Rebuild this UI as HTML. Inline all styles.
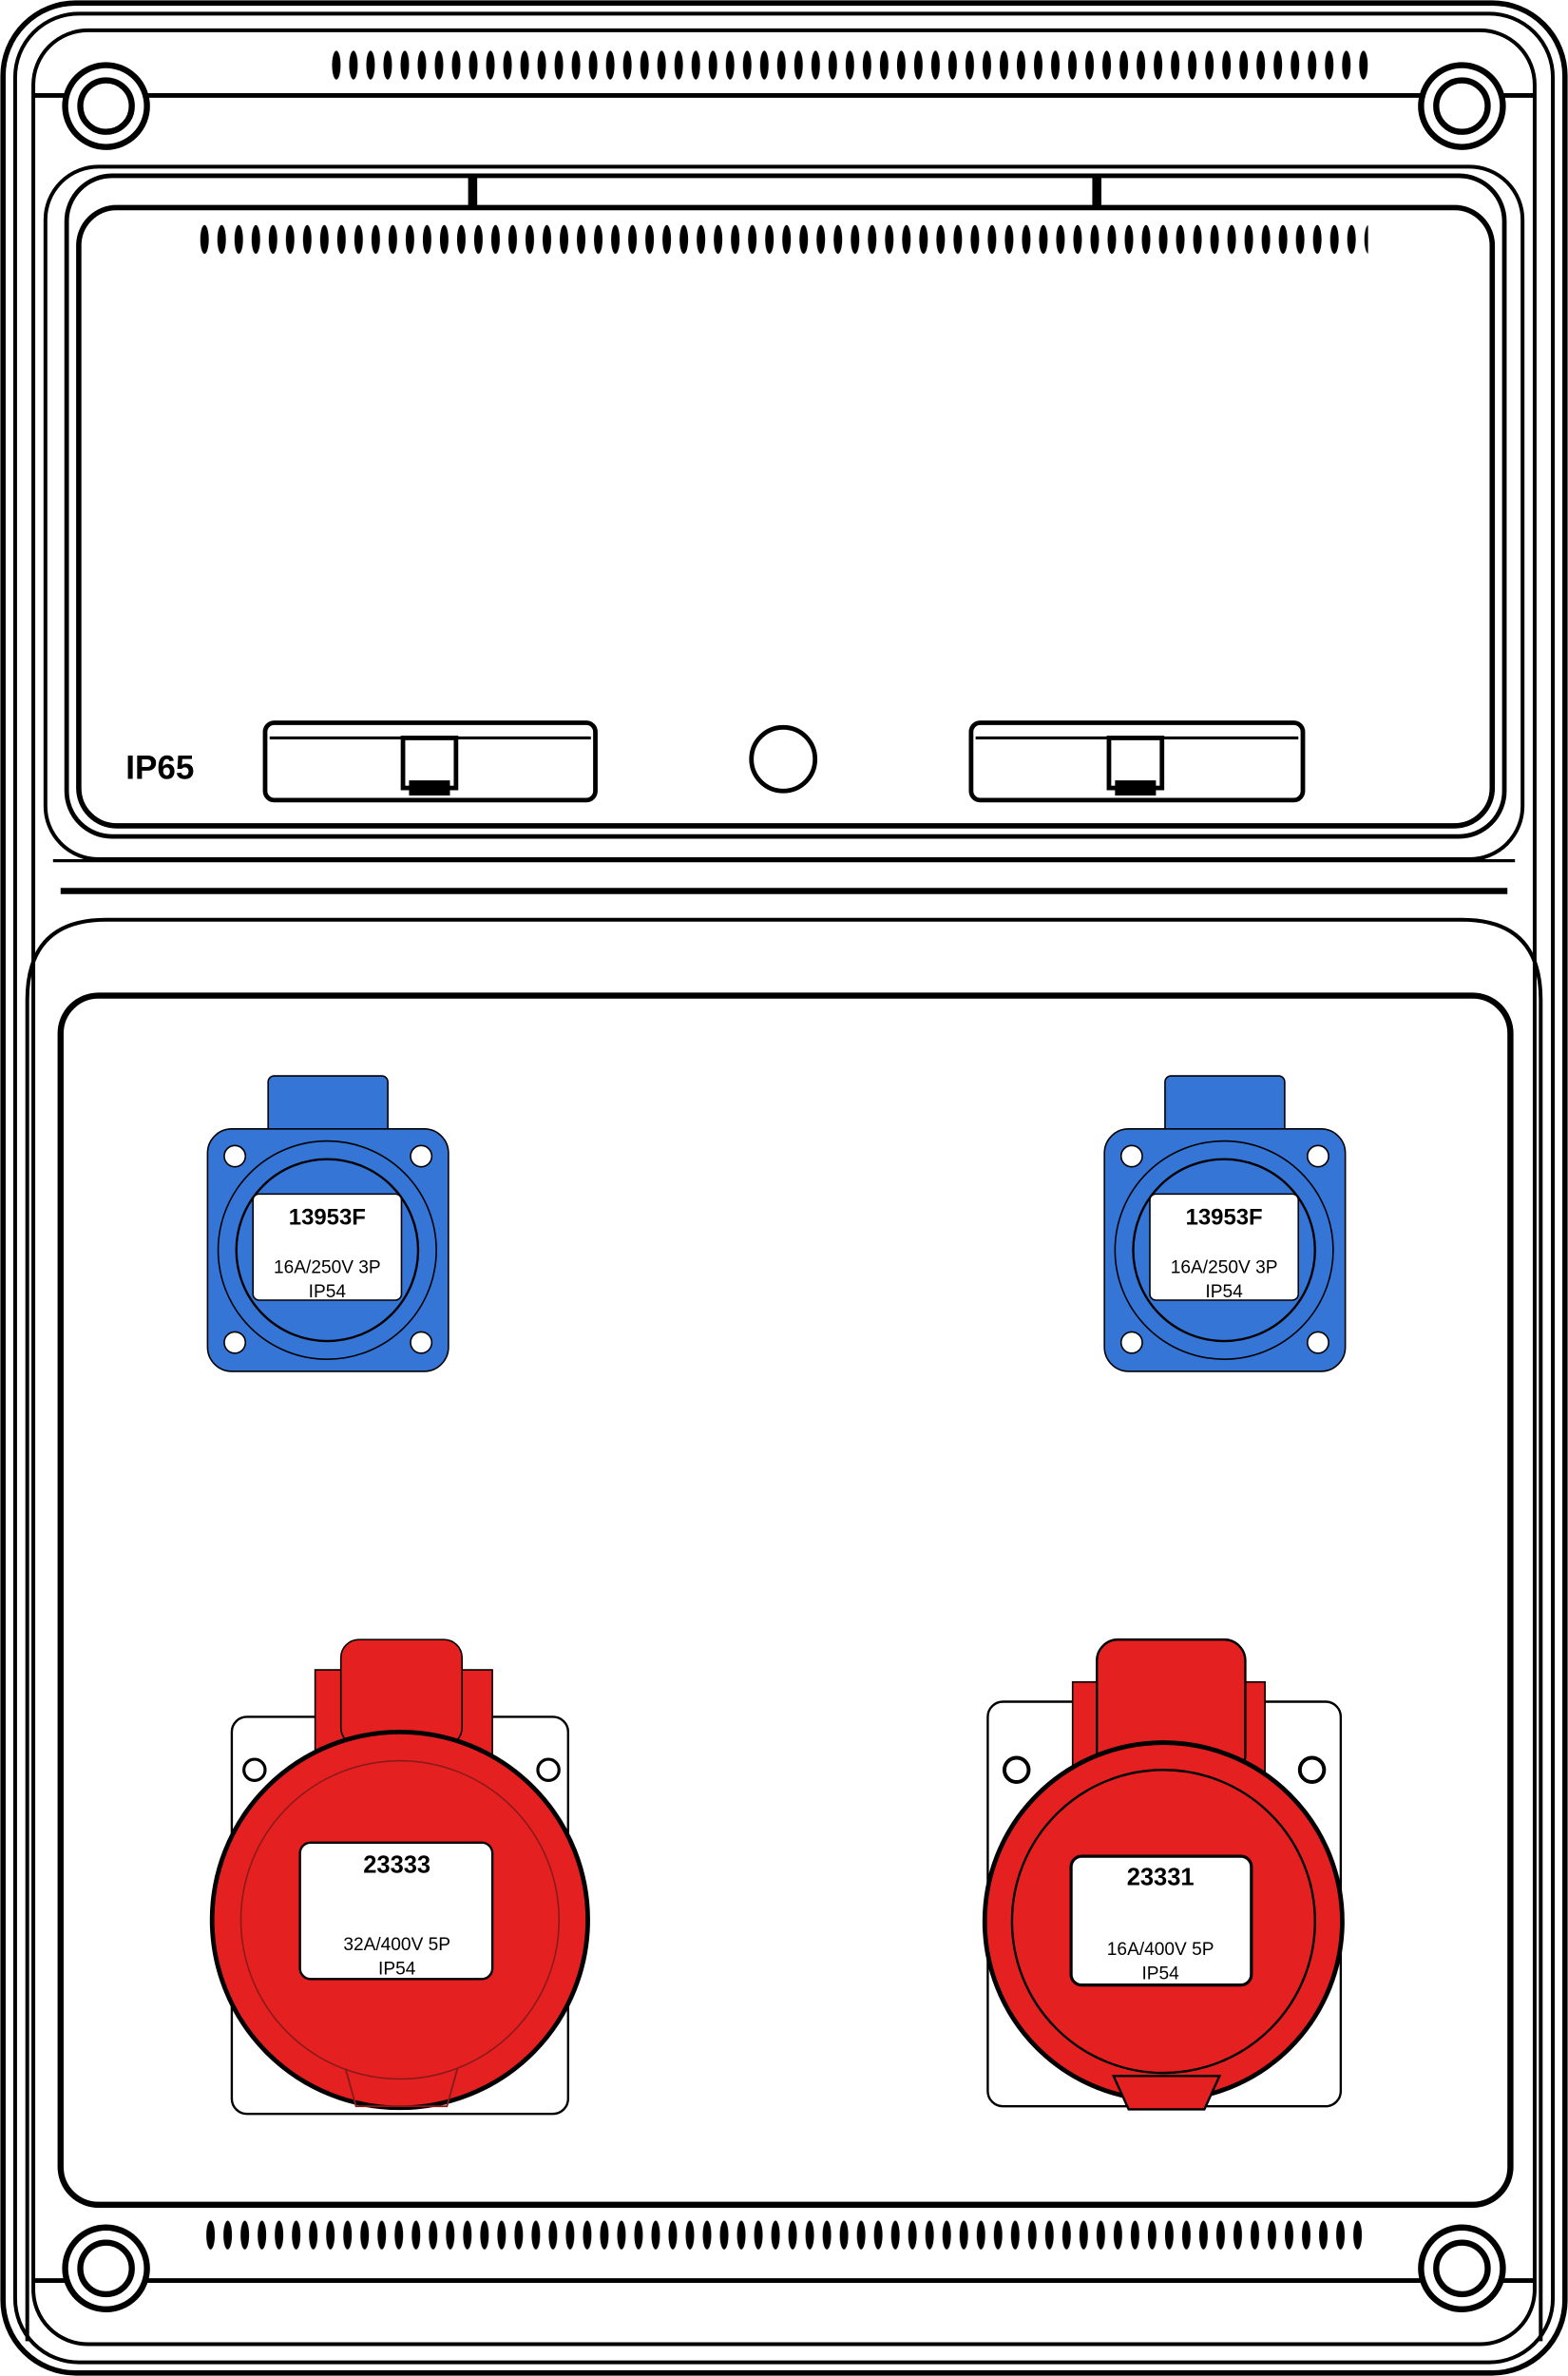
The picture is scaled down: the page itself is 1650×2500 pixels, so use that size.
<!DOCTYPE html>
<html><head><meta charset="utf-8"><style>
html,body{margin:0;padding:0;background:#fff}
svg{display:block}
text{font-family:"Liberation Sans",sans-serif;fill:#000}
</style></head><body>
<svg width="1650" height="2500" viewBox="0 0 1035 1568" preserveAspectRatio="none" xmlns="http://www.w3.org/2000/svg">
<defs>
<pattern id="v1" x="218" y="33" width="11.3" height="20" patternUnits="userSpaceOnUse">
<ellipse cx="4" cy="10" rx="2.8" ry="9.5" fill="#000"/>
</pattern>
<pattern id="v2" x="131" y="148" width="11.3" height="20" patternUnits="userSpaceOnUse">
<ellipse cx="4" cy="10" rx="2.8" ry="9.5" fill="#000"/>
</pattern>
<pattern id="v3" x="135" y="1465" width="11.3" height="20" patternUnits="userSpaceOnUse">
<ellipse cx="4" cy="10" rx="2.8" ry="9.5" fill="#000"/>
</pattern>
</defs>
<rect width="1035" height="1568" fill="#fff"/>
<g fill="none" stroke="#000">
<rect x="2" y="2" width="1031" height="1564" rx="48" stroke-width="3.5"/>
<rect x="10" y="9" width="1015" height="1550" rx="42" stroke-width="2.5"/>
<rect x="22" y="20" width="991" height="1527" rx="36" stroke-width="2.5"/>
<line x1="22" y1="63" x2="1013" y2="63" stroke-width="3"/>
<line x1="22" y1="1505" x2="1013" y2="1505" stroke-width="3"/>
<rect x="44" y="116" width="949" height="436" rx="30" stroke-width="3"/>
<rect x="30" y="110" width="975" height="457" rx="35" stroke-width="2.5"/>
<rect x="52" y="137" width="933" height="408" rx="25" stroke-width="3.5"/>
<line x1="40" y1="588" x2="995" y2="588" stroke-width="4"/>
<line x1="35" y1="568" x2="1000" y2="568" stroke-width="2"/>
<path d="M18 1545 L18 660 Q18 607 70 607 L965 607 Q1017 607 1017 660 L1017 1545" stroke-width="2.5"/>
<rect x="40" y="657" width="957" height="798" rx="25" stroke-width="4"/>
<rect x="175" y="477" width="218" height="51" rx="6" stroke-width="3"/>
<line x1="178" y1="487" x2="390" y2="487" stroke-width="2"/>
<rect x="641" y="477" width="219" height="51" rx="6" stroke-width="3"/>
<line x1="644" y1="487" x2="857" y2="487" stroke-width="2"/>
<circle cx="517" cy="501" r="21" stroke-width="3"/>
</g>
<g fill="#fff" stroke="#000" stroke-width="4">
<circle cx="70" cy="70" r="27"/><circle cx="70" cy="70" r="17"/>
<circle cx="965" cy="70" r="27"/><circle cx="965" cy="70" r="17"/>
<circle cx="70" cy="1497" r="27"/><circle cx="70" cy="1497" r="17"/>
<circle cx="965" cy="1497" r="27"/><circle cx="965" cy="1497" r="17"/>
</g>
<rect x="309" y="116" width="6" height="20" fill="#000"/>
<rect x="721" y="116" width="6" height="20" fill="#000"/>
<rect x="266" y="487" width="35" height="33" fill="#fff" stroke="#000" stroke-width="3"/>
<rect x="270" y="515" width="27" height="10" fill="#000"/>
<rect x="732" y="487" width="35" height="33" fill="#fff" stroke="#000" stroke-width="3"/>
<rect x="736" y="515" width="27" height="10" fill="#000"/>
<rect x="218" y="33" width="690" height="20" fill="url(#v1)"/>
<rect x="131" y="148" width="772" height="20" fill="url(#v2)"/>
<rect x="135" y="1465" width="765" height="20" fill="url(#v3)"/>
<text x="83" y="514" font-size="22" font-weight="bold">IP65</text>

<g>
<rect x="177" y="710" width="79" height="70" rx="4" fill="#3575d6" stroke="#000" stroke-width="1"/>
<rect x="137" y="745" width="159" height="160" rx="16" fill="#3575d6" stroke="#000" stroke-width="1"/>
<circle cx="216" cy="825" r="72" fill="#3575d6" stroke="#000" stroke-width="1"/>
<circle cx="216" cy="825" r="60" fill="#3575d6" stroke="#000" stroke-width="1.5"/>
<circle cx="155" cy="763" r="7" fill="#fff" stroke="#000"/>
<circle cx="278" cy="763" r="7" fill="#fff" stroke="#000"/>
<circle cx="155" cy="886" r="7" fill="#fff" stroke="#000"/>
<circle cx="278" cy="886" r="7" fill="#fff" stroke="#000"/>
<rect x="167" y="788" width="98" height="70" rx="4" fill="#fff" stroke="#000"/>
<text x="216" y="808" font-size="15" font-weight="bold" text-anchor="middle">13953F</text>
<text x="216" y="840" font-size="12" text-anchor="middle">16A/250V 3P</text>
<text x="216" y="856" font-size="12" text-anchor="middle">IP54</text>
</g>
<g transform="translate(592,0)">
<rect x="177" y="710" width="79" height="70" rx="4" fill="#3575d6" stroke="#000" stroke-width="1"/>
<rect x="137" y="745" width="159" height="160" rx="16" fill="#3575d6" stroke="#000" stroke-width="1"/>
<circle cx="216" cy="825" r="72" fill="#3575d6" stroke="#000" stroke-width="1"/>
<circle cx="216" cy="825" r="60" fill="#3575d6" stroke="#000" stroke-width="1.5"/>
<circle cx="155" cy="763" r="7" fill="#fff" stroke="#000"/>
<circle cx="278" cy="763" r="7" fill="#fff" stroke="#000"/>
<circle cx="155" cy="886" r="7" fill="#fff" stroke="#000"/>
<circle cx="278" cy="886" r="7" fill="#fff" stroke="#000"/>
<rect x="167" y="788" width="98" height="70" rx="4" fill="#fff" stroke="#000"/>
<text x="216" y="808" font-size="15" font-weight="bold" text-anchor="middle">13953F</text>
<text x="216" y="840" font-size="12" text-anchor="middle">16A/250V 3P</text>
<text x="216" y="856" font-size="12" text-anchor="middle">IP54</text>
</g>

<rect x="153" y="1133" width="222" height="262" rx="10" fill="#fff" stroke="#000" stroke-width="1.5"/>
<rect x="208" y="1102" width="117" height="60" fill="#e52020" stroke="#000" stroke-width="1"/>
<rect x="225" y="1082" width="80" height="70" rx="12" fill="#e52020" stroke="#000" stroke-width="1"/>
<circle cx="168" cy="1168" r="7" fill="none" stroke="#000" stroke-width="2"/>
<circle cx="362" cy="1168" r="7" fill="none" stroke="#000" stroke-width="2"/>
<circle cx="264" cy="1267" r="124" fill="#e52020" stroke="#000" stroke-width="3"/>
<circle cx="264" cy="1267" r="105" fill="none" stroke="#8a1a1a" stroke-width="1"/>
<path d="M228 1365 L235 1390 L295 1390 L302 1365" fill="none" stroke="#8a1a1a" stroke-width="1.2"/>
<rect x="198" y="1216" width="127" height="90" rx="7" fill="#fff" stroke="#000" stroke-width="1.5"/>
<text x="262" y="1236" font-size="16" font-weight="bold" text-anchor="middle">23333</text>
<text x="262" y="1287" font-size="12" text-anchor="middle">32A/400V 5P</text>
<text x="262" y="1303" font-size="12" text-anchor="middle">IP54</text>

<rect x="652" y="1123" width="233" height="267" rx="10" fill="#fff" stroke="#000" stroke-width="1.5"/>
<rect x="708" y="1110" width="127" height="60" fill="#e52020" stroke="#000" stroke-width="1"/>
<rect x="724" y="1082" width="98" height="90" rx="14" fill="#e52020" stroke="#000" stroke-width="1.5"/>
<circle cx="671" cy="1168" r="8" fill="none" stroke="#000" stroke-width="2.5"/>
<circle cx="866" cy="1168" r="8" fill="none" stroke="#000" stroke-width="2.5"/>
<circle cx="768" cy="1268" r="118" fill="#e52020" stroke="#000" stroke-width="3"/>
<circle cx="768" cy="1268" r="100" fill="none" stroke="#000" stroke-width="1.5"/>
<path d="M735 1370 L745 1392 L795 1392 L805 1370 Z" fill="#e52020" stroke="#000" stroke-width="1.5"/>
<rect x="707" y="1225" width="119" height="85" rx="7" fill="#fff" stroke="#000" stroke-width="2"/>
<text x="766" y="1244" font-size="16" font-weight="bold" text-anchor="middle">23331</text>
<text x="766" y="1290" font-size="12" text-anchor="middle">16A/400V 5P</text>
<text x="766" y="1306" font-size="12" text-anchor="middle">IP54</text>
</svg>
</body></html>
